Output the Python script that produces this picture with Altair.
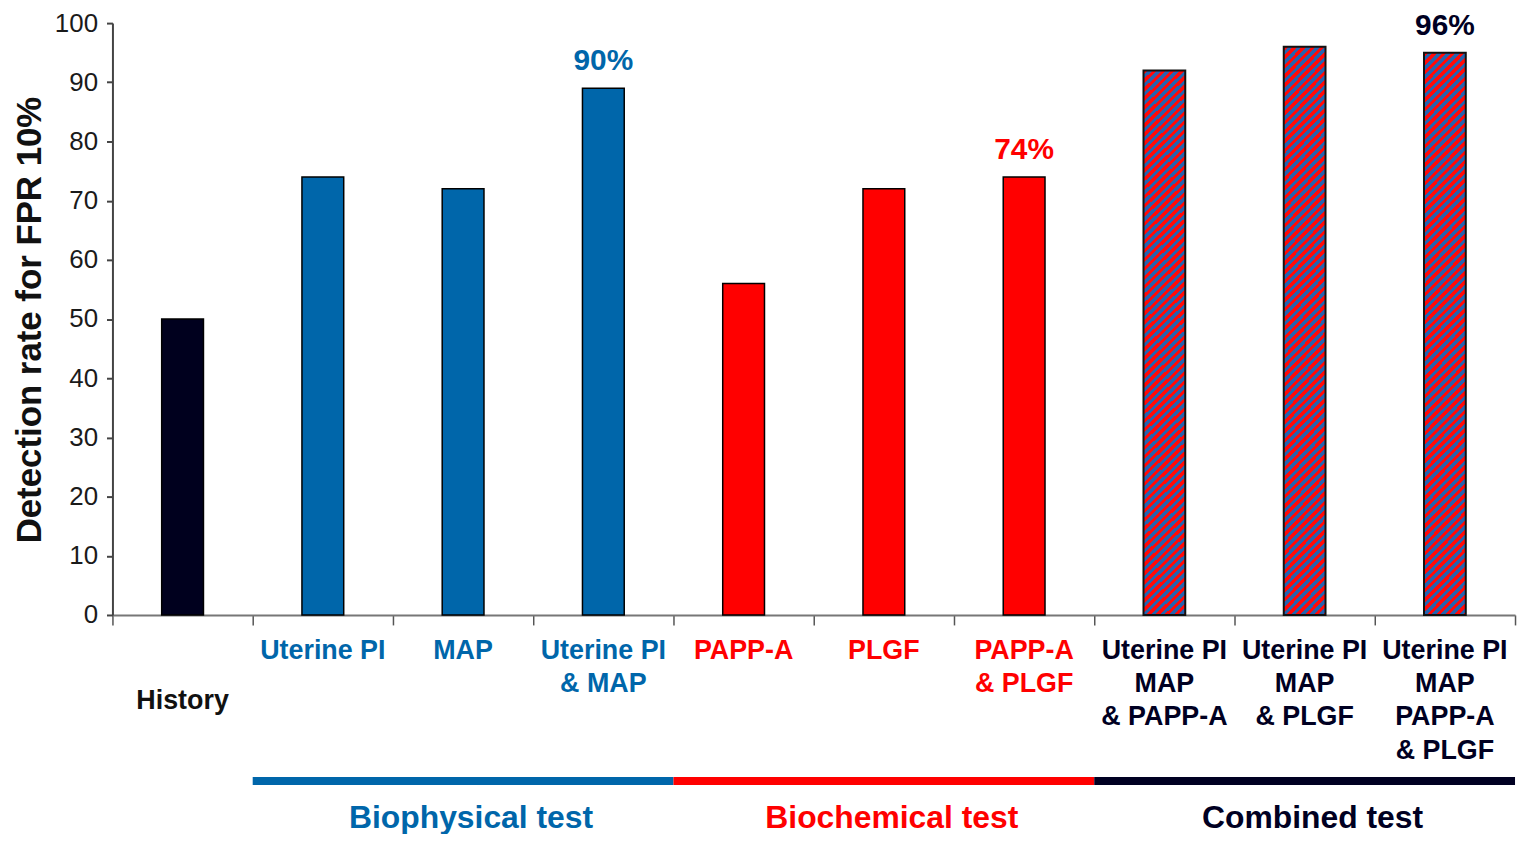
import altair as alt
import pandas as pd

# ---------------- data ----------------
categories = [
    "History",
    "Uterine PI",
    "MAP",
    "Uterine PI\n& MAP",
    "PAPP-A",
    "PLGF",
    "PAPP-A\n& PLGF",
    "Uterine PI\nMAP\n& PAPP-A",
    "Uterine PI\nMAP\n& PLGF",
    "Uterine PI\nMAP\nPAPP-A\n& PLGF",
]
values = [50, 74, 72, 89, 56, 72, 74, 92, 96, 95]
groups = ["History", "Biophysical", "Biophysical", "Biophysical",
          "Biochemical", "Biochemical", "Biochemical",
          "Combined", "Combined", "Combined"]

annot_categories = [categories[3], categories[6], categories[9]]
annot_texts = ["90%", "74%", "96%"]

group_names = ["Biophysical", "Biochemical", "Combined"]
group_titles = ["Biophysical test", "Biochemical test", "Combined test"]
group_first = [1, 4, 7]   # index of first category in group
group_last = [3, 6, 9]    # index of last category in group

color_domain = ["History", "Biophysical", "Biochemical", "Combined"]
color_range = ["#00001e", "#0066aa", "#ff0000", "#000022"]

FONT = "Liberation Sans"

# ---------------- tables ----------------
n = len(categories)
df = pd.DataFrame({
    "category": categories,
    "value": values,
    "group": groups,
    "pos": [i + 0.5 for i in range(n)],
})
adf = pd.DataFrame({"category": annot_categories, "label": annot_texts}).merge(df, on="category")
gdf = pd.DataFrame({
    "group": group_names,
    "title": group_titles,
    "start": group_first,
    "end": [e + 1 for e in group_last],
})
gdf["mid"] = (gdf["start"] + gdf["end"]) / 2

# hatched fill for combined tests (diagonal red / blue stripes)
def hatch(periods=66, red_frac=0.5, red="#ff0a0a", blue="#2862ad"):
    stops = []
    for k in range(periods):
        a = k / periods
        b = (k + red_frac) / periods
        c = (k + 1) / periods
        stops += [alt.GradientStop(offset=a, color=red),
                  alt.GradientStop(offset=b, color=red),
                  alt.GradientStop(offset=b, color=blue),
                  alt.GradientStop(offset=c, color=blue)]
    return alt.LinearGradient(gradient="linear", stops=stops, x1=0, y1=0, x2=0.081, y2=1.08)

x_scale = alt.Scale(domain=[0, n], nice=False, zero=False, padding=0)
y_scale = alt.Scale(domain=[0, 100], nice=False)
col = alt.Color("group:N", scale=alt.Scale(domain=color_domain, range=color_range), legend=None)

x_axis = alt.Axis(values=list(range(n + 1)), labels=False, title=None, grid=False,
                  tickSize=10, tickColor="#555555", tickWidth=1.5,
                  domainColor="#777777", domainWidth=2)
y_axis = alt.Axis(values=list(range(0, 101, 10)), grid=False,
                  title="Detection rate for FPR 10%", titleFont=FONT, titleFontSize=35,
                  titleFontWeight="bold", titleColor="#111111", titleAngle=270,
                  titleX=-72, titleY=298, titleAlign="center", titleBaseline="alphabetic",
                  labelFont=FONT, labelFontSize=26, labelColor="#1a1a1a", labelPadding=9,
                  tickSize=6, tickColor="#444444", tickWidth=2,
                  domainColor="#444444", domainWidth=2)

base = alt.Chart(df)

bars_solid = base.transform_filter("datum.group != 'Combined'").mark_bar(
    size=42, orient="vertical", stroke="#000000", strokeWidth=1.5
).encode(
    x=alt.X("pos:Q", scale=x_scale, axis=x_axis),
    y=alt.Y("value:Q", scale=y_scale, axis=y_axis),
    color=col,
)

bars_hatched = base.transform_filter("datum.group == 'Combined'").mark_bar(
    size=42, orient="vertical", stroke="#111111", strokeWidth=2, fill=hatch()
).encode(
    x=alt.X("pos:Q", scale=x_scale),
    y=alt.Y("value:Q", scale=y_scale),
)

cat_labels = base.transform_filter("datum.group != 'History'").mark_text(
    font=FONT, fontSize=27, fontWeight="bold", lineBreak="\n", lineHeight=33.5,
    baseline="alphabetic", align="center"
).encode(
    x=alt.X("pos:Q", scale=x_scale),
    y=alt.value(639),
    text="category:N",
    color=col,
)

hist_label = base.transform_filter("datum.group == 'History'").mark_text(
    font=FONT, fontSize=27, fontWeight="bold", baseline="alphabetic", align="center"
).encode(
    x=alt.X("pos:Q", scale=x_scale),
    y=alt.value(690),
    text="category:N",
    color=alt.value("#111111"),
)

annots = alt.Chart(adf).mark_text(
    font=FONT, fontSize=30, fontWeight="bold", baseline="alphabetic", align="center", dy=-18
).encode(
    x=alt.X("pos:Q", scale=x_scale),
    y=alt.Y("value:Q", scale=y_scale),
    text="label:N",
    color=col,
)

group_rules = alt.Chart(gdf).mark_rule(strokeWidth=8, strokeCap="butt").encode(
    x=alt.X("start:Q", scale=x_scale),
    x2="end:Q",
    y=alt.value(762),
    color=col,
)

group_text = alt.Chart(gdf).mark_text(
    font=FONT, fontSize=32, fontWeight="bold", baseline="alphabetic", align="center", dx=8
).encode(
    x=alt.X("mid:Q", scale=x_scale),
    y=alt.value(809),
    text="title:N",
    color=col,
)

chart = alt.layer(
    bars_solid, bars_hatched, cat_labels, hist_label, annots, group_rules, group_text
).properties(
    width=1410,
    height=595,
    padding={"left": 105, "top": 13, "right": 4, "bottom": 218},
    autosize=alt.AutoSizeParams(type="none"),
    background="white",
).configure_view(stroke=None)

chart.save("out.html", embed_options={"renderer": "svg", "actions": False})
